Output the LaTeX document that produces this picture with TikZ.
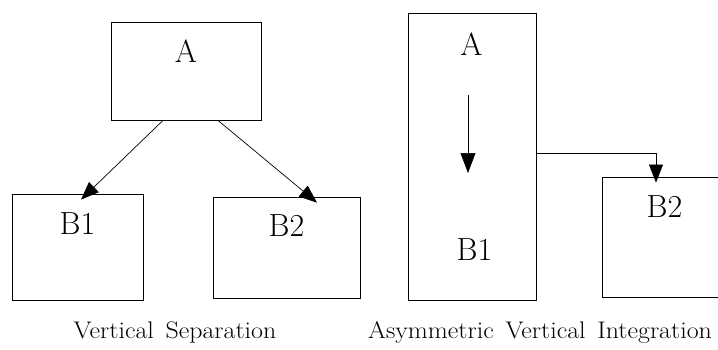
\documentclass[tikz,border=0pt]{standalone}
\usetikzlibrary{arrows.meta,calc}
\newcommand{\wsp}{\hspace{0.45em}}
\newcommand{\captxt}[1]{\scalebox{1.08}[1]{#1}}
\begin{document}
\begin{tikzpicture}[x=1pt,y=-1pt,
  box/.style={draw,line width=0.8pt,rectangle,inner sep=0pt},
  lbl/.style={inner sep=0pt,anchor=base,font=\fontsize{32}{38}\selectfont},
  captext/.style={inner sep=0pt,anchor=base,font=\fontsize{24}{29}\selectfont},
  arr/.style={line width=0.7pt,-{Triangle[length=18pt,width=14pt]}}]
\useasboundingbox (0,0) rectangle (718,349);
\begin{scope}
\clip (0,0) rectangle (718,349);

% Vertical separation: firm A feeding two separate firms
\node[box,minimum width=150pt,minimum height=98pt] (A) at (186,71) {};
\node[lbl] (Atxt) at (186,62) {A};
\node[box,minimum width=131pt,minimum height=106pt] (B1) at (77.5,247) {};
\node[lbl] (B1txt) at (77.5,234) {B1};
\node[box,minimum width=147pt,minimum height=101pt] (B2) at (286.5,247.5) {};
\node[lbl] (B2txt) at (286.5,236) {B2};
\draw[arr] ([xshift=-23pt]A.south) -- ([xshift=3.5pt,yshift=-6pt]B1.north);
\draw[arr] ([xshift=32pt]A.south) -- ([xshift=30.5pt,yshift=-6pt]B2.north);
\node[captext] (capL) at (175,338) {\captxt{Vertical\wsp Separation}};

% Asymmetric vertical integration: A and B1 in one firm, B2 outside
\node[box,minimum width=128pt,minimum height=287pt] (T) at (472,156.5) {};
\node[lbl] (TA) at (471.5,55) {A};
\node[lbl] (TB1) at (474.5,260) {B1};
\coordinate (dtop) at (468,95);
\coordinate (dbot) at (468,173);
\draw[line width=0.7pt,-{Triangle[length=20pt,width=15pt]}] (dtop) -- (dbot);
\node[box,minimum width=138pt,minimum height=120pt] (R2) at (671,237) {};
\node[lbl] (R2txt) at (664.5,217) {B2};
\draw[arr] ([yshift=3.5pt]T.east) -| ([xshift=-15pt,yshift=-6pt]R2.north);
\node[captext] (capR) at (540,338) {\captxt{Asymmetric\wsp Vertical\wsp Integration}};
\end{scope}
\end{tikzpicture}
\end{document}
